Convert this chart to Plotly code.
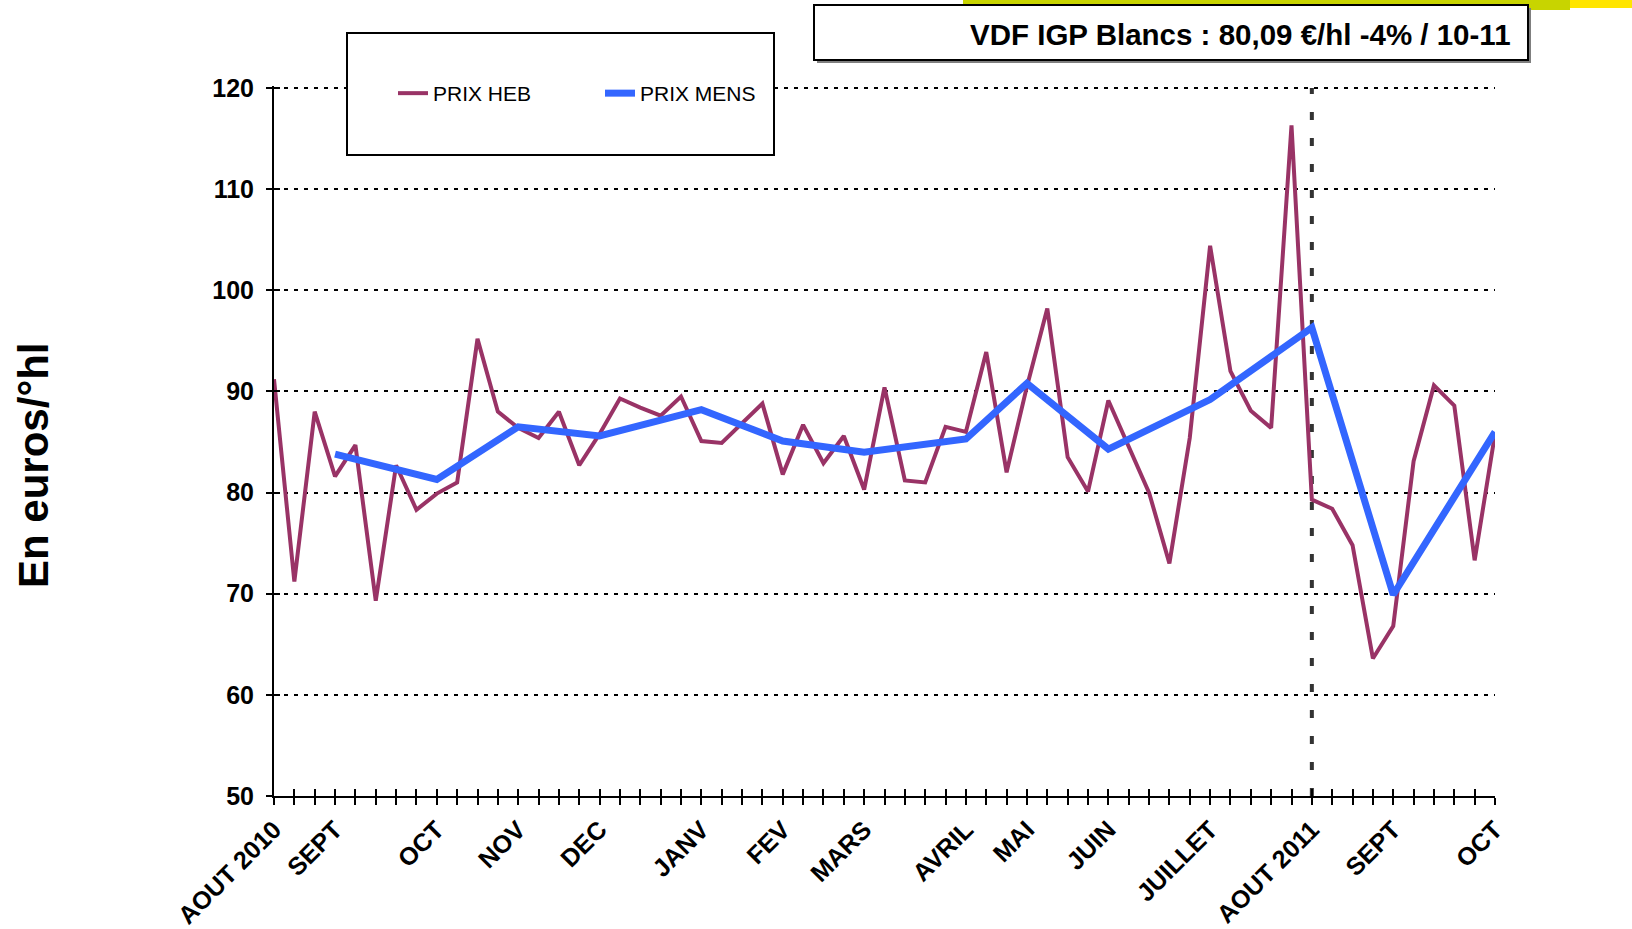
import plotly.graph_objects as go

# ---------------- data ----------------
WEEK_LABELS = [
    "AOUT 2010", "", "", "SEPT", "", "", "", "", "OCT", "", "", "", "NOV", "", "", "",
    "DEC", "", "", "", "", "JANV", "", "", "", "FEV", "", "", "", "MARS", "", "", "", "",
    "AVRIL", "", "", "MAI", "", "", "", "JUIN", "", "", "", "", "JUILLET", "", "", "", "",
    "AOUT 2011", "", "", "", "SEPT", "", "", "", "", "OCT",
]

PRIX_HEB = [
    91.2, 71.2, 88.0, 81.6, 84.7, 69.3, 82.7, 78.3, 79.9, 81.0,
    95.2, 88.0, 86.4, 85.4, 88.0, 82.7, 85.8, 89.3, 88.4, 87.6,
    89.5, 85.1, 84.9, 86.9, 88.8, 81.8, 86.7, 82.9, 85.6, 80.3,
    90.4, 81.2, 81.0, 86.5, 86.0, 93.9, 82.0, 90.5, 98.2, 83.5,
    80.1, 89.1, 84.5, 80.0, 73.0, 85.4, 104.4, 92.0, 88.1, 86.4,
    116.3, 79.3, 78.4, 74.8, 63.6, 66.8, 83.1, 90.6, 88.6, 73.3,
    85.8,
]

MENS_WEEK = [3, 8, 12, 16, 21, 25, 29, 34, 37, 41, 46, 51, 55, 60]
PRIX_MENS = [83.8, 81.3, 86.5, 85.6, 88.2, 85.1, 84.0, 85.3, 90.8, 84.3, 89.2, 96.3, 69.9, 86.0]

Y_TICKS = [50, 60, 70, 80, 90, 100, 110, 120]
TITLE_TEXT = "VDF IGP Blancs : 80,09 €/hl -4% / 10-11"
Y_TITLE = "En euros/°hl"
DIVIDER_LABEL = "AOUT 2011"

# ---------------- layout helpers ----------------
W, H = 1632, 929
ML, MR, MT, MB = 274, 137, 86, 133
PW, PH = W - ML - MR, H - MT - MB
Y_PAD = 0.2  # small headroom so the top grid line is kept by plotly


def xp(px):
    return (px - ML) / PW


def yp(py):
    return (H - MB - py) / PH


FONT = "Liberation Sans, Arial, sans-serif"
week_idx = list(range(len(WEEK_LABELS)))

fig = go.Figure()
fig.add_trace(go.Scatter(
    x=week_idx, y=PRIX_HEB, mode="lines", name="PRIX HEB",
    line=dict(color="#993366", width=4), hoverinfo="skip",
))
fig.add_trace(go.Scatter(
    x=MENS_WEEK, y=PRIX_MENS, mode="lines", name="PRIX MENS",
    line=dict(color="#3366FF", width=7), hoverinfo="skip",
))
# invisible trace so the overlay axes (inner half of crossing ticks) exist
fig.add_trace(go.Scatter(
    x=[week_idx[0]], y=[Y_TICKS[0]], xaxis="x2", yaxis="y2", mode="markers",
    marker=dict(opacity=0), showlegend=False, hoverinfo="skip",
))

divider_x = WEEK_LABELS.index(DIVIDER_LABEL)
fig.add_shape(type="line", xref="x", yref="y", x0=divider_x, x1=divider_x,
              y0=Y_TICKS[0], y1=Y_TICKS[-1],
              line=dict(color="#333333", width=4, dash="8px,18px"), layer="below")

tickfont = dict(family=FONT, size=25, color="black", weight="bold")
xr = [week_idx[0], week_idx[-1]]
yr = [Y_TICKS[0], Y_TICKS[-1] + Y_PAD]

fig.update_layout(
    width=W, height=H,
    margin=dict(l=ML, r=MR, t=MT, b=MB, pad=0, autoexpand=False),
    paper_bgcolor="white", plot_bgcolor="white",
    font=dict(family=FONT, color="black"),
    showlegend=True,
    legend=dict(
        orientation="h", xref="container", yref="container",
        x=393 / W, y=1 - 73 / H, xanchor="left", yanchor="top",
        font=dict(family=FONT, size=21, color="black"),
        bgcolor="rgba(0,0,0,0)", borderwidth=0, entrywidth=162,
    ),
    xaxis=dict(
        range=xr, tickmode="array", tickvals=week_idx, ticktext=WEEK_LABELS,
        tickangle=-45, ticks="outside", ticklen=7, tickwidth=2, tickcolor="black",
        showline=True, linewidth=2, linecolor="black", showgrid=False, zeroline=False,
        tickfont=tickfont, automargin=False,
    ),
    xaxis2=dict(
        range=xr, overlaying="x", anchor="y", tickmode="array", tickvals=week_idx,
        ticks="inside", ticklen=7, tickwidth=2, tickcolor="black",
        showticklabels=False, showline=False, showgrid=False, zeroline=False,
        automargin=False,
    ),
    yaxis=dict(
        range=yr, tickmode="array", tickvals=Y_TICKS,
        ticks="outside", ticklen=6, tickwidth=2, tickcolor="black",
        showline=True, linewidth=2, linecolor="black",
        showgrid=True, gridcolor="black", gridwidth=2, griddash="4px,6px",
        zeroline=False, tickfont=tickfont, ticklabelstandoff=7, automargin=False,
    ),
    yaxis2=dict(
        range=yr, overlaying="y", anchor="x", tickmode="array", tickvals=Y_TICKS,
        ticks="inside", ticklen=6, tickwidth=2, tickcolor="black",
        showticklabels=False, showline=False, showgrid=False, zeroline=False,
        automargin=False,
    ),
)

shapes = [
    # colored banner strip at top
    dict(type="rect", xref="paper", yref="paper", x0=xp(963), x1=xp(1570), y0=yp(10), y1=yp(0),
         fillcolor="#C8D400", line=dict(width=0), layer="above"),
    dict(type="rect", xref="paper", yref="paper", x0=xp(1570), x1=xp(1632), y0=yp(8), y1=yp(0),
         fillcolor="#FFE500", line=dict(width=0), layer="above"),
    # title box shadow + box
    dict(type="rect", xref="paper", yref="paper", x0=xp(817), x1=xp(1531), y0=yp(63), y1=yp(8),
         fillcolor="#7f7f7f", line=dict(width=0), layer="above"),
    dict(type="rect", xref="paper", yref="paper", x0=xp(814), x1=xp(1528), y0=yp(60), y1=yp(5),
         fillcolor="white", line=dict(color="black", width=2), layer="above"),
    # legend box
    dict(type="rect", xref="paper", yref="paper", x0=xp(347), x1=xp(774), y0=yp(155), y1=yp(33),
         fillcolor="white", line=dict(color="black", width=2), layer="above"),
]
fig.update_layout(shapes=list(fig.layout.shapes) + shapes)

fig.add_annotation(
    text=TITLE_TEXT, xref="paper", yref="paper", x=xp(1513), y=yp(34),
    xanchor="right", yanchor="middle", showarrow=False,
    font=dict(family=FONT, size=29.5, color="black", weight="bold"),
)
fig.add_annotation(
    text=Y_TITLE, xref="paper", yref="paper", x=xp(34), y=yp(465),
    xanchor="center", yanchor="middle", showarrow=False, textangle=-90,
    font=dict(family=FONT, size=42, color="black", weight="bold"),
)

fig.write_html(
    "out.html",
    config={"displayModeBar": False},
    post_script="document.body.style.margin='0';document.body.style.overflow='hidden';",
)
